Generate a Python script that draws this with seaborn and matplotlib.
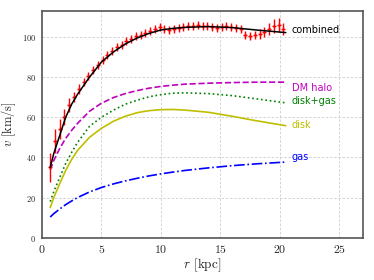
import numpy as np
import pandas as pd
import matplotlib
matplotlib.use("Agg")
import matplotlib.pyplot as plt
import seaborn as sns

# observed rotation curve
r_obs = [0.7, 1.1, 1.5, 1.9, 2.3, 2.7, 3.1, 3.5, 3.9, 4.3, 4.7, 5.1, 5.5, 5.9, 6.3, 6.7,
         7.1, 7.5, 7.9, 8.3, 8.7, 9.1, 9.5, 9.9, 10.3, 10.7, 11.1, 11.5, 11.9, 12.3, 12.7,
         13.1, 13.5, 13.9, 14.3, 14.7, 15.1, 15.5, 15.9, 16.3, 16.7, 17.1, 17.5, 17.9,
         18.3, 18.7, 19.1, 19.5, 19.9, 20.3]
v_obs = [35, 48, 54, 60, 66, 70, 74, 77.5, 80.5, 83.5, 86, 88.5, 91, 93, 95, 96, 98, 99,
         100.5, 101, 102, 103, 104, 105, 104, 103.5, 104, 104.5, 105, 105.5, 105.5, 106,
         105.5, 105.5, 105, 104.5, 105, 105.5, 105, 104.5, 104, 101, 100.5, 101, 101.5,
         102.5, 104, 105.5, 106, 104]
v_err = [7, 6, 5, 4, 3.5, 2.5, 2.5, 2, 2, 2, 2, 2, 2, 2, 2, 2, 2, 2,
         2, 2, 2, 2, 2, 2, 2, 2, 2, 2, 2, 2, 2, 2, 2, 2,
         2, 2, 2, 2, 2, 2, 2, 2, 2, 2, 2.5, 2.5, 3, 3.5, 3.5, 3]

# model components
r_mod = [0.7, 1, 1.5, 2, 2.5, 3, 4, 5, 6, 7, 8, 9, 10, 11, 12, 14, 16, 18, 20.5]
v_combined = [35, 42, 51, 60, 66.5, 71.5, 80, 87.5, 92.5, 96.5, 99.5, 101.8, 103.5,
              104.3, 104.8, 105.2, 104.7, 103.5, 102.2]
v_halo = [33.8, 38.5, 44.5, 49.5, 53.5, 57, 63, 67, 69.8, 71.8, 73.3, 74.5, 75.4, 76,
          76.5, 77, 77.3, 77.5, 77.5]
v_diskgas = [18, 23, 30, 37, 42.5, 47.5, 55.5, 60, 63.5, 66.5, 68.5, 70.2, 71.3, 72,
             72.2, 71.8, 70.8, 69.2, 67.2]
v_disk = [15, 20, 27, 33.5, 39, 43.5, 50, 54.5, 58, 60.5, 62.3, 63.3, 63.8, 63.9, 63.6,
          62.5, 60.5, 58.3, 55.8]
v_gas = [10.3, 12, 14.3, 16.5, 18.3, 20, 22.8, 25, 26.8, 28.3, 29.6, 30.8, 31.8, 32.7,
         33.5, 34.8, 35.9, 36.8, 37.7]

labels = ["combined", "DM halo", "disk+gas", "disk", "gas"]
label_v = [103.3, 74.8, 68, 56.3, 40.2]

sns.set_style("whitegrid", {"grid.linestyle": (0, (3, 2)), "grid.color": "#cccccc",
                            "axes.edgecolor": "#555555"})
plt.rcParams["grid.linewidth"] = 0.6
plt.rcParams["font.family"] = "serif"
plt.rcParams["font.serif"] = ["cmr10"]
plt.rcParams["mathtext.fontset"] = "cm"
plt.rcParams["axes.formatter.use_mathtext"] = True

df = pd.DataFrame({"r": r_mod, "combined": v_combined, "DM halo": v_halo,
                   "disk+gas": v_diskgas, "disk": v_disk, "gas": v_gas})

fig = plt.figure(figsize=(3.74, 2.8), dpi=100)
ax = fig.add_axes([0.112, 0.151, 0.859, 0.81])

ax.errorbar(r_obs, v_obs, yerr=v_err, fmt="+", color="red", ms=3, mew=1.0,
            elinewidth=1.0, zorder=3)

styles = {"combined": ("k", "-"), "DM halo": ("m", "--"), "disk+gas": ("g", ":"),
          "disk": ("y", "-"), "gas": ("b", "-.")}
for name in labels:
    col, ls = styles[name]
    sns.lineplot(data=df, x="r", y=name, color=col, linestyle=ls,
                 lw=1.1 if name == "combined" else 1.2, ax=ax,
                 zorder=4 if name == "combined" else 2)

for name, yv in zip(labels, label_v):
    ax.text(21.0, yv, name, color=styles[name][0], fontsize=7, va="center",
            ha="left", family="DejaVu Sans")

ax.set_xlim(0, 27)
ax.set_ylim(0, 113)
ax.set_xticks([0, 5, 10, 15, 20, 25])
ax.set_yticks([0, 20, 40, 60, 80, 100])
ax.tick_params(axis="x", labelsize=8.5, length=2, pad=2)
ax.tick_params(axis="y", labelsize=6, length=2, pad=2)
ax.set_xlabel(r"$r$ [kpc]", fontsize=9.5, labelpad=1)
ax.set_ylabel(r"$v$ [km/s]", fontsize=9, labelpad=3)
for s in ax.spines.values():
    s.set_linewidth(1.2)

fig.savefig("out.png", dpi=100)
